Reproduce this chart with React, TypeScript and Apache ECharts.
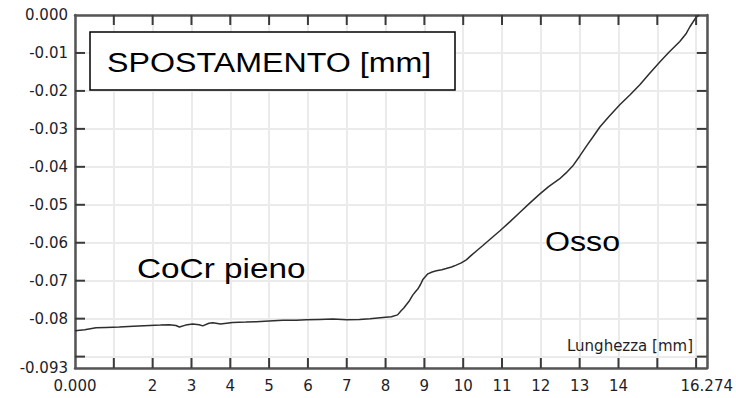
import React, { useEffect, useRef } from "react";
import * as echarts from "echarts";

const xValues = [
  0, 0.25, 0.54, 0.8, 1.14, 1.5, 1.92, 2.2, 2.43, 2.6, 2.69, 2.85, 3.03, 3.2, 3.29, 3.45, 3.55, 3.75,
  4.06, 4.4, 4.67, 5.0, 5.36, 5.7, 5.96, 6.3, 6.64, 7.0, 7.33, 7.6, 7.93, 8.15, 8.31, 8.4, 8.47,
  8.53, 8.62, 8.7, 8.78, 8.83, 8.9, 8.96, 9.09, 9.2, 9.31, 9.45, 9.56, 9.7, 9.82, 9.95, 10.08,
  10.2, 10.37, 10.5, 10.7, 10.94, 11.2, 11.45, 11.7, 11.97, 12.2, 12.48, 12.65, 12.82, 13.0,
  13.17, 13.35, 13.52, 13.75, 14.04, 14.3, 14.55, 14.8, 15.07, 15.3, 15.58, 15.75, 15.84, 16.0, 16.08,
];
const displacement = [
  -0.0832, -0.0829, -0.0824, -0.0823, -0.0822, -0.082, -0.0818, -0.0817, -0.0816, -0.0818, -0.0822,
  -0.0817, -0.0814, -0.0816, -0.0819, -0.0812, -0.0811, -0.0814, -0.081, -0.0809, -0.0808, -0.0806,
  -0.0804, -0.0804, -0.0803, -0.0802, -0.0801, -0.0803, -0.0802, -0.08, -0.0797, -0.0795, -0.079,
  -0.0779, -0.0772, -0.0764, -0.0752, -0.0738, -0.0728, -0.0722, -0.071, -0.0697, -0.0682, -0.0677,
  -0.0674, -0.0671, -0.0668, -0.0664, -0.0659, -0.0653, -0.0645, -0.0634, -0.0619, -0.0608, -0.059,
  -0.0569, -0.0545, -0.0521, -0.0497, -0.0472, -0.0452, -0.0432, -0.0416, -0.0398, -0.0372, -0.0346,
  -0.032, -0.0295, -0.0268, -0.0236, -0.021, -0.0184, -0.0154, -0.0123, -0.0098, -0.007, -0.0048,
  -0.0031, -0.0006, 0.0,
];

const xMin = 0;
const xMax = 16.274;
const yMin = -0.093;
const yMax = 0;
const xTickValues = [1, 2, 3, 4, 5, 6, 7, 8, 9, 10, 11, 12, 13, 14, 15, 16];
const yTickValues = [-0.09, -0.08, -0.07, -0.06, -0.05, -0.04, -0.03, -0.02, -0.01];
const hiddenXLabels = [1, 15, 16];
const hiddenYLabels = [-0.09];

const titleText = "SPOSTAMENTO [mm]";
const leftLabel = "CoCr pieno";
const rightLabel = "Osso";
const xAxisName = "Lunghezza [mm]";

const labelFont = "DejaVu Sans";
const TICK_LEN = 10;

export default function App() {
  const ref = useRef<HTMLDivElement>(null);
  useEffect(() => {
    if (!ref.current) return;
    const chart = echarts.init(ref.current, null, { renderer: "svg" });
    const makeLine = () => ({ show: true, onZero: false, lineStyle: { color: "#555", width: 2.5 } });
    const near = (a: number, b: number) => Math.abs(a - b) < 1e-7;
    const split = { show: true, lineStyle: { color: "#ebebeb", width: 2 } };
    const tickLine = (x1: number, y1: number, x2: number, y2: number) => ({
      type: "line",
      shape: { x1, y1, x2, y2 },
      style: { stroke: "#3a3a3a", lineWidth: 2 },
    });
    chart.setOption({
      animation: false,
      backgroundColor: "#fff",
      grid: { left: 75, top: 15, right: 29, bottom: 30, containLabel: false },
      xAxis: [
        {
          type: "value",
          min: xMin,
          max: xMax,
          splitNumber: 16,
          position: "bottom",
          axisLine: makeLine(),
          axisTick: { show: false },
          axisLabel: {
            show: true,
            margin: 10,
            color: "#1e1e28",
            fontSize: 15,
            fontFamily: labelFont,
            showMinLabel: true,
            showMaxLabel: true,
            formatter: (v: number) => {
              if (near(v, 0)) return "0.000";
              if (near(v, xMax)) return "16.274";
              if (hiddenXLabels.some((h) => near(v, h))) return "";
              return String(Math.round(v));
            },
          },
          splitLine: split,
        },
        {
          type: "value",
          min: xMin,
          max: xMax,
          splitNumber: 16,
          position: "top",
          axisLine: makeLine(),
          axisTick: { show: false },
          axisLabel: { show: false },
          splitLine: { show: false },
        },
      ],
      yAxis: [
        {
          type: "value",
          min: yMin,
          max: yMax,
          splitNumber: 9,
          position: "left",
          axisLine: makeLine(),
          axisTick: { show: false },
          axisLabel: {
            show: true,
            margin: 7,
            color: "#1e1e28",
            fontSize: 15,
            fontFamily: labelFont,
            showMinLabel: true,
            showMaxLabel: true,
            formatter: (v: number) => {
              if (near(v, 0)) return "0.000";
              if (near(v, yMin)) return "-0.093";
              if (hiddenYLabels.some((h) => near(v, h))) return "";
              return v.toFixed(2);
            },
          },
          splitLine: split,
        },
        {
          type: "value",
          min: yMin,
          max: yMax,
          splitNumber: 9,
          position: "right",
          axisLine: makeLine(),
          axisTick: { show: false },
          axisLabel: { show: false },
          splitLine: { show: false },
        },
      ],
      series: [
        {
          type: "line",
          xAxisIndex: 0,
          yAxisIndex: 0,
          data: xValues.map((x, i) => [x, displacement[i]]),
          showSymbol: false,
          lineStyle: { color: "#2e2e2e", width: 1.5 },
          z: 3,
        },
        {
          type: "custom",
          xAxisIndex: 0,
          yAxisIndex: 0,
          silent: true,
          clip: false,
          z: 6,
          data: xTickValues.map((v) => [v, yMin]),
          renderItem: (params: any, api: any) => {
            const v = api.value(0);
            const b = api.coord([v, yMin]);
            const t = api.coord([v, yMax]);
            return {
              type: "group",
              children: [
                tickLine(b[0], b[1], b[0], b[1] - TICK_LEN),
                tickLine(t[0], t[1], t[0], t[1] + TICK_LEN),
              ],
            };
          },
        },
        {
          type: "custom",
          xAxisIndex: 0,
          yAxisIndex: 0,
          silent: true,
          clip: false,
          z: 6,
          data: yTickValues.map((v) => [xMin, v]),
          renderItem: (params: any, api: any) => {
            const v = api.value(1);
            const l = api.coord([xMin, v]);
            const r = api.coord([xMax, v]);
            return {
              type: "group",
              children: [
                tickLine(l[0], l[1], l[0] + TICK_LEN, l[1]),
                tickLine(r[0], r[1], r[0] - TICK_LEN, r[1]),
              ],
            };
          },
        },
      ],
      graphic: [
        {
          type: "rect",
          shape: { x: 90, y: 32, width: 365, height: 58 },
          style: { fill: "#fff", stroke: "#000", lineWidth: 1.5 },
          z: 10,
        },
        {
          type: "text",
          x: 107,
          y: 62,
          scaleX: 1.15,
          z: 11,
          style: {
            text: titleText,
            font: "28px 'Liberation Sans', Arial, sans-serif",
            fill: "#000",
            textAlign: "left",
            textVerticalAlign: "middle",
          },
        },
        {
          type: "text",
          x: 137,
          y: 268,
          scaleX: 1.19,
          z: 11,
          style: {
            text: leftLabel,
            font: "28px 'Liberation Sans', Arial, sans-serif",
            fill: "#000",
            textAlign: "left",
            textVerticalAlign: "middle",
          },
        },
        {
          type: "text",
          x: 545,
          y: 241,
          scaleX: 1.15,
          z: 11,
          style: {
            text: rightLabel,
            font: "28px 'Liberation Sans', Arial, sans-serif",
            fill: "#000",
            textAlign: "left",
            textVerticalAlign: "middle",
          },
        },
        {
          type: "text",
          x: 693,
          y: 346,
          z: 11,
          style: {
            text: xAxisName,
            font: "15px 'DejaVu Sans', sans-serif",
            fill: "#1e1e28",
            textAlign: "right",
            textVerticalAlign: "middle",
          },
        },
      ],
    });
    return () => chart.dispose();
  }, []);
  return (
    <div
      ref={ref}
      style={{ position: "fixed", left: 0, top: 0, width: 736, height: 398 }}
    />
  );
}
